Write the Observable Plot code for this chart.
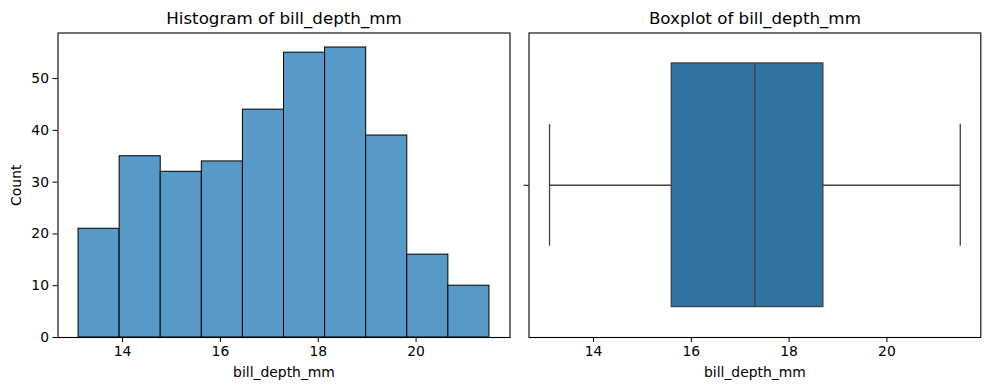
<!DOCTYPE html>
<html>
<head>
<meta charset="utf-8">
<script src="https://cdn.jsdelivr.net/npm/d3@7"></script>
<script src="https://cdn.jsdelivr.net/npm/@observablehq/plot@0.6"></script>
<style>
  html, body { margin: 0; padding: 0; background: #fff; }
  #wrap { display: flex; width: 989px; height: 390px; }
  svg { display: block; }
</style>
</head>
<body>
<div id="wrap"></div>
<script>
// ---- data ----
const binEdges = [13.1, 13.94, 14.78, 15.62, 16.46, 17.3, 18.14, 18.98, 19.82, 20.66, 21.5];
const counts = [21, 35, 32, 34, 44, 55, 56, 39, 16, 10];
const boxLow = 13.1, boxQ1 = 15.6, boxMedian = 17.3, boxQ3 = 18.7, boxHigh = 21.5;
const xTicks = [14, 16, 18, 20];
const yTicks = [0, 10, 20, 30, 40, 50];
const xDomain = [12.68, 21.92];
const varName = "bill_depth_mm";

const bins = counts.map((c, i) => ({x1: binEdges[i], x2: binEdges[i + 1], count: c}));
const box = [{low: boxLow, q1: boxQ1, median: boxMedian, q3: boxQ3, high: boxHigh}];

const FONT = "DejaVu Sans, sans-serif";
const TICK_FS = 13.9;
const TITLE_FS = 16.7;
const LINE = "#3f3f3f";

const style = {fontFamily: FONT, fontSize: TICK_FS + "px", color: "black", background: "white", overflow: "visible"};

const left = Plot.plot({
  width: 519, height: 390,
  marginLeft: 57.5, marginRight: 9.5, marginTop: 32.5, marginBottom: 53,
  style,
  x: {domain: xDomain},
  y: {domain: [0, 58.8]},
  marks: [
    Plot.rectY(bins, {x1: "x1", x2: "x2", y: "count", fill: "rgb(87,153,199)", stroke: "black", strokeWidth: 1, insetLeft: 0, insetRight: 0}),
    Plot.axisX({ticks: xTicks, tickSize: 5, tickPadding: 4, label: null, fontSize: TICK_FS, stroke: "black", strokeWidth: 1}),
    Plot.axisY({ticks: yTicks, tickSize: 5, tickPadding: 4, label: null, fontSize: TICK_FS, stroke: "black", strokeWidth: 1}),
    Plot.text([varName], {text: d => d, frameAnchor: "bottom", lineAnchor: "middle", textAnchor: "middle", dy: 35, fontSize: TICK_FS, fill: "black"}),
    Plot.text(["Count"], {text: d => d, frameAnchor: "left", lineAnchor: "middle", textAnchor: "middle", dx: -41.5, rotate: -90, fontSize: TICK_FS, fill: "black"}),
    Plot.text(["Histogram of " + varName], {text: d => d, frameAnchor: "top", lineAnchor: "middle", textAnchor: "middle", dy: -14.5, fontSize: TITLE_FS, fill: "black"}),
    Plot.frame({stroke: "black", strokeWidth: 1.1})
  ]
});

const right = Plot.plot({
  width: 470, height: 390,
  marginLeft: 9.5, marginRight: 8.7, marginTop: 32.5, marginBottom: 53,
  style,
  x: {domain: xDomain},
  y: {domain: [0.5, -0.5]},
  marks: [
    Plot.ruleY(box, {x1: "low", x2: "q1", y: 0, stroke: LINE, strokeWidth: 1.3}),
    Plot.ruleY(box, {x1: "q3", x2: "high", y: 0, stroke: LINE, strokeWidth: 1.3}),
    Plot.ruleX(box, {x: "low", y1: -0.2, y2: 0.2, stroke: LINE, strokeWidth: 1.3}),
    Plot.ruleX(box, {x: "high", y1: -0.2, y2: 0.2, stroke: LINE, strokeWidth: 1.3}),
    Plot.rect(box, {x1: "q1", x2: "q3", y1: -0.4, y2: 0.4, fill: "#3274a1", stroke: LINE, strokeWidth: 1.3}),
    Plot.ruleX(box, {x: "median", y1: -0.4, y2: 0.4, stroke: LINE, strokeWidth: 1.3}),
    Plot.axisX({ticks: xTicks, tickSize: 5, tickPadding: 4, label: null, fontSize: TICK_FS, stroke: "black", strokeWidth: 1}),
    Plot.axisY({ticks: [0], tickSize: 5, tickFormat: () => "", label: null, stroke: "black", strokeWidth: 1}),
    Plot.text([varName], {text: d => d, frameAnchor: "bottom", lineAnchor: "middle", textAnchor: "middle", dy: 35, fontSize: TICK_FS, fill: "black"}),
    Plot.text(["Boxplot of " + varName], {text: d => d, frameAnchor: "top", lineAnchor: "middle", textAnchor: "middle", dy: -14.5, fontSize: TITLE_FS, fill: "black"}),
    Plot.frame({stroke: "black", strokeWidth: 1.1})
  ]
});

const wrap = document.getElementById("wrap");
wrap.appendChild(left);
wrap.appendChild(right);
</script>
</body>
</html>
